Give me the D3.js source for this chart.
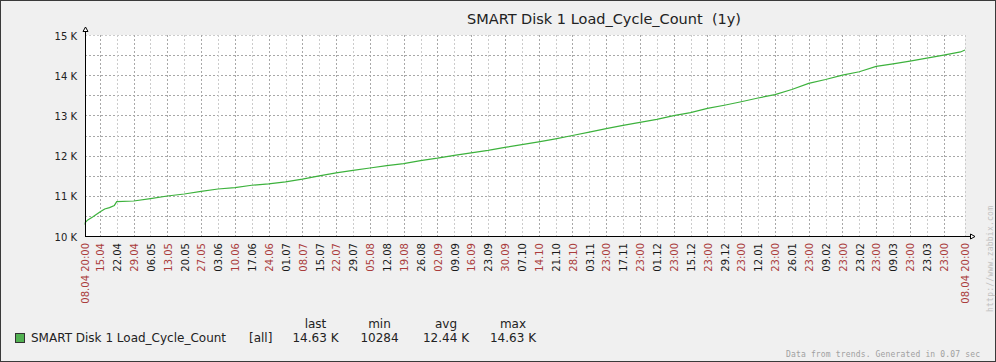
<!DOCTYPE html>
<html>
<head>
<meta charset="utf-8">
<script src="https://cdn.jsdelivr.net/npm/d3@7"></script>
<style>
  body { margin: 0; background: #fff; }
  svg { display: block; font-family: "DejaVu Sans", sans-serif; }
</style>
</head>
<body>
<div id="chart"></div>
<script>
var title = "SMART Disk 1 Load_Cycle_Count  (1y)",
    itemName = "SMART Disk 1 Load_Cycle_Count",
    lineColor = "#3db23d";

// time range of the graph (1y)
var periodStart = "2019-04-08T20:00",
    periodEnd = "2020-04-07T20:00";

// points
var dates = ["2019-04-08T20:00", "2019-04-09", "2019-04-10", "2019-04-12", "2019-04-15",
             "2019-04-17", "2019-04-19", "2019-04-21", "2019-04-22", "2019-04-29",
             "2019-05-06", "2019-05-13", "2019-05-20", "2019-05-27", "2019-06-03",
             "2019-06-10", "2019-06-17", "2019-06-24", "2019-07-01", "2019-07-08",
             "2019-07-15", "2019-07-22", "2019-07-29", "2019-08-05", "2019-08-12",
             "2019-08-19", "2019-08-26", "2019-09-02", "2019-09-09", "2019-09-16",
             "2019-09-23", "2019-09-30", "2019-10-07", "2019-10-14", "2019-10-21",
             "2019-10-28", "2019-11-04", "2019-11-11", "2019-11-18", "2019-11-25",
             "2019-12-02", "2019-12-09", "2019-12-16", "2019-12-23", "2019-12-30",
             "2020-01-06", "2020-01-13", "2020-01-20", "2020-01-27", "2020-02-03",
             "2020-02-10", "2020-02-17", "2020-02-24", "2020-03-02", "2020-03-09",
             "2020-03-16", "2020-03-23", "2020-03-30", "2020-04-06", "2020-04-07T20:00"];
var values = [10284, 10340, 10400, 10470, 10595,
              10672, 10705, 10760, 10853, 10870,
              10928, 10995, 11045, 11112, 11169,
              11203, 11262, 11296, 11345, 11413,
              11497, 11568, 11633, 11692, 11750,
              11800, 11876, 11935, 12005, 12070,
              12130, 12205, 12271, 12340, 12416,
              12500, 12583, 12670, 12752, 12826,
              12902, 12996, 13071, 13174, 13253,
              13340, 13432, 13517, 13643, 13795,
              13892, 14000, 14085, 14220, 14284,
              14350, 14425, 14498, 14578, 14627];

// y axis
var yMin = 10000, yMax = 15000, yGridStep = 500;
var yLabels = ["10 K", "11 K", "12 K", "13 K", "14 K", "15 K"];

// x axis: first weekly tick and labels (even index = red)
var firstTick = "2019-04-15";
var xLabels = ["15.04", "22.04", "29.04", "06.05", "13.05", "20.05", "27.05", "03.06", "10.06",
               "17.06", "24.06", "01.07", "08.07", "15.07", "22.07", "29.07", "05.08", "12.08",
               "19.08", "26.08", "02.09", "09.09", "16.09", "23.09", "30.09", "07.10", "14.10",
               "21.10", "28.10", "03.11", "23:00", "17.11", "23:00", "01.12", "23:00", "15.12",
               "23:00", "29.12", "23:00", "12.01", "23:00", "26.01", "23:00", "09.02", "23:00",
               "23.02", "23:00", "09.03", "23:00", "23.03", "23:00"];
var edgeLabel = "08.04 20:00";

// legend
var legendHeads = ["last", "min", "avg", "max"],
    legendVals = ["14.63 K", "10284", "12.44 K", "14.63 K"];

var footer = "Data from trends. Generated in 0.07 sec",
    watermark = "http://www.zabbix.com";

////////////////////////////////////////////////////////////
var W = 996, H = 362;
var plotLeft = 85, plotRight = 965, plotTop = 35, plotBottom = 236;

var parse = function(s) { return new Date(s + (s.length > 10 ? ":00Z" : "T00:00:00Z")); };

var x = d3.scaleUtc()
  .domain([parse(periodStart), parse(periodEnd)])
  .range([plotLeft, plotRight]);

var y = d3.scaleLinear()
  .domain([yMin, yMax])
  .range([plotBottom, plotTop]);

var crisp = function(v) { return Math.round(v) + 0.5; };

var svg = d3.select("#chart").append("svg")
  .attr("width", W)
  .attr("height", H);

svg.append("rect")
  .attr("x", 0.5).attr("y", 0.5)
  .attr("width", W - 1).attr("height", H - 1)
  .attr("fill", "#f0f0f0")
  .attr("stroke", "#3a3a3a");

svg.append("rect")
  .attr("x", plotLeft).attr("y", plotTop)
  .attr("width", plotRight - plotLeft).attr("height", plotBottom - plotTop)
  .attr("fill", "#ffffff");

// title
svg.append("text")
  .attr("x", 467).attr("y", 24)
  .style("font-size", "14.5px")
  .style("white-space", "pre")
  .attr("fill", "#222")
  .text(title);

// horizontal grid
var yGrid = d3.range(yMin + yGridStep, yMax + 1, yGridStep);
svg.selectAll("line.hgrid")
  .data(yGrid)
  .enter().append("line")
  .attr("class", "hgrid")
  .attr("x1", plotLeft).attr("x2", plotRight)
  .attr("y1", function(d) { return crisp(y(d)); })
  .attr("y2", function(d) { return crisp(y(d)); })
  .attr("stroke", function(d) { return d === yMax ? "#cccccc" : "#a8a8a8"; })
  .attr("stroke-dasharray", "2,2")
  .attr("shape-rendering", "crispEdges");

// vertical grid
var tickDates = xLabels.map(function(l, i) { return d3.utcDay.offset(parse(firstTick), 7 * i); });
svg.selectAll("line.vgrid")
  .data(tickDates)
  .enter().append("line")
  .attr("class", "vgrid")
  .attr("y1", plotTop).attr("y2", plotBottom)
  .attr("x1", function(d) { return crisp(x(d)); })
  .attr("x2", function(d) { return crisp(x(d)); })
  .attr("stroke", function(d, i) { return i % 2 === 0 ? "#a8a8a8" : "#cccccc"; })
  .attr("stroke-dasharray", "2,2")
  .attr("shape-rendering", "crispEdges");

// right border
svg.append("line")
  .attr("x1", crisp(plotRight)).attr("x2", crisp(plotRight))
  .attr("y1", plotTop).attr("y2", plotBottom)
  .attr("stroke", "#cccccc")
  .attr("stroke-dasharray", "2,2")
  .attr("shape-rendering", "crispEdges");

// data line
var pts = dates.map(function(d, i) { return { t: parse(d), v: values[i] }; });
svg.append("path")
  .datum(pts)
  .attr("fill", "none")
  .attr("stroke", lineColor)
  .attr("stroke-width", 1.2)
  .attr("d", d3.line()
    .x(function(d) { return x(d.t); })
    .y(function(d) { return y(d.v); }));

// axes
var ax = crisp(plotLeft), ay = crisp(plotBottom);
svg.append("line")
  .attr("x1", ax).attr("x2", ax)
  .attr("y1", ay).attr("y2", 31)
  .attr("stroke", "#000").attr("shape-rendering", "crispEdges");
svg.append("line")
  .attr("x1", ax).attr("x2", 971)
  .attr("y1", ay).attr("y2", ay)
  .attr("stroke", "#000").attr("shape-rendering", "crispEdges");
svg.append("path")
  .attr("d", "M" + (ax - 2.5) + ",31.5 L" + (ax + 2.5) + ",31.5 L" + ax + ",27 Z")
  .attr("fill", "#fff").attr("stroke", "#000");
svg.append("path")
  .attr("d", "M970.5," + (ay - 2.5) + " L970.5," + (ay + 2.5) + " L975,"  + ay + " Z")
  .attr("fill", "#fff").attr("stroke", "#000");

// y labels
svg.selectAll("text.ylab")
  .data(yLabels)
  .enter().append("text")
  .attr("class", "ylab")
  .attr("x", 77)
  .attr("y", function(d, i) { return y(yMin + i * 1000) + 4.5; })
  .attr("text-anchor", "end")
  .style("font-size", "10px")
  .attr("fill", "#222")
  .text(function(d) { return d; });

// x labels
var xlab = tickDates.map(function(d, i) { return { t: d, label: xLabels[i], red: i % 2 === 0 }; });
xlab.unshift({ t: x.domain()[0], label: edgeLabel, red: true });
xlab.push({ t: x.domain()[1], label: edgeLabel, red: true });

svg.selectAll("text.xlab")
  .data(xlab)
  .enter().append("text")
  .attr("class", "xlab")
  .attr("transform", function(d) { return "translate(" + (x(d.t) + 4.3) + ",243) rotate(-90)"; })
  .attr("text-anchor", "end")
  .style("font-size", "10px")
  .attr("fill", function(d) { return d.red ? "#aa3c3c" : "#1a1a1a"; })
  .text(function(d) { return d.label; });

// legend
svg.append("rect")
  .attr("x", 15.5).attr("y", 333.5)
  .attr("width", 9).attr("height", 9)
  .attr("fill", "#52b152")
  .attr("stroke", "#333");
svg.append("text")
  .attr("x", 31).attr("y", 342)
  .style("font-size", "12px").attr("fill", "#222")
  .text(itemName);
svg.append("text")
  .attr("x", 249).attr("y", 342)
  .style("font-size", "12px").attr("fill", "#222")
  .text("[all]");

var colX = [315.5, 379.5, 446, 513];
svg.selectAll("text.lhead")
  .data(legendHeads)
  .enter().append("text")
  .attr("class", "lhead")
  .attr("x", function(d, i) { return colX[i]; })
  .attr("y", 327.5)
  .attr("text-anchor", "middle")
  .style("font-size", "12px").attr("fill", "#222")
  .text(function(d) { return d; });
svg.selectAll("text.lval")
  .data(legendVals)
  .enter().append("text")
  .attr("class", "lval")
  .attr("x", function(d, i) { return colX[i]; })
  .attr("y", 342)
  .attr("text-anchor", "middle")
  .style("font-size", "12px").attr("fill", "#222")
  .text(function(d) { return d; });

// footer + watermark
svg.append("text")
  .attr("x", 786).attr("y", 357)
  .attr("textLength", 194)
  .style("font-family", "'DejaVu Sans Mono', monospace")
  .style("font-size", "8px")
  .attr("fill", "#a0a0a0")
  .text(footer);
svg.append("text")
  .attr("transform", "translate(993,312) rotate(-90)")
  .attr("textLength", 106)
  .style("font-family", "'DejaVu Sans Mono', monospace")
  .style("font-size", "8px")
  .attr("fill", "#c0c0c0")
  .text(watermark);
</script>
</body>
</html>
